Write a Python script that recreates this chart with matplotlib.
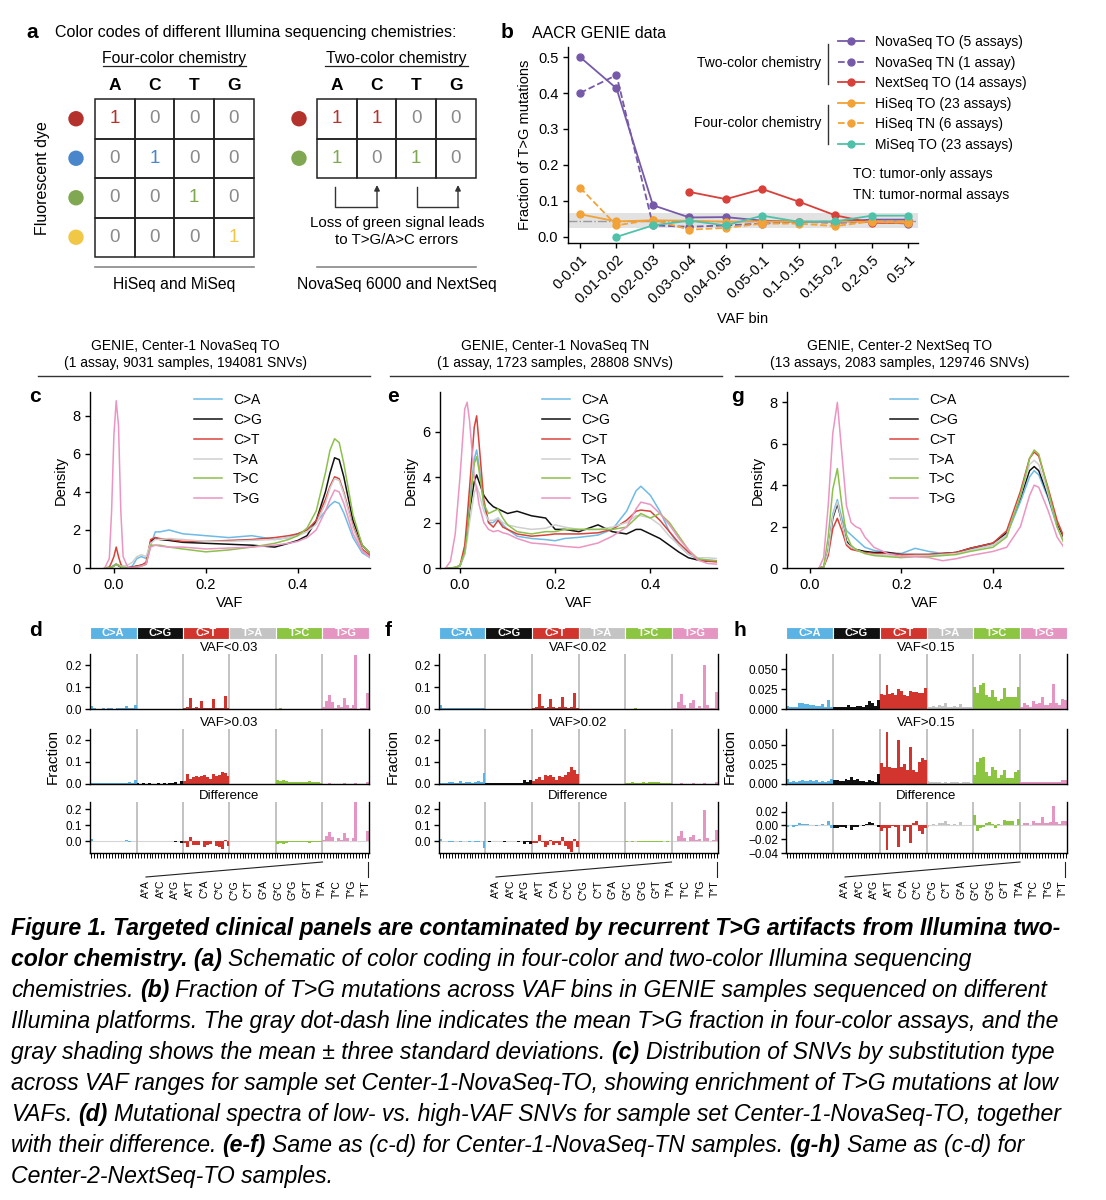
import numpy as np
import matplotlib
matplotlib.use('Agg')
import matplotlib.pyplot as plt
from matplotlib.patches import Circle, Rectangle
from matplotlib.ticker import FuncFormatter

# ---------------- data ----------------
bases = ['A', 'C', 'T', 'G']
four_color = [[1, 0, 0, 0], [0, 1, 0, 0], [0, 0, 1, 0], [0, 0, 0, 1]]
two_color = [[1, 1, 0, 0], [1, 0, 1, 0]]

vaf_bins = ['0-0.01', '0.01-0.02', '0.02-0.03', '0.03-0.04', '0.04-0.05',
            '0.05-0.1', '0.1-0.15', '0.15-0.2', '0.2-0.5', '0.5-1']
novaseq_to = [0.50, 0.413, 0.088, 0.054, 0.055, 0.045, 0.042, 0.042, 0.048, 0.048]
novaseq_tn = [0.40, 0.45, 0.032, 0.028, 0.032, 0.037, 0.042, 0.039, 0.042, 0.037]
nextseq_to = [np.nan, np.nan, np.nan, 0.125, 0.105, 0.133, 0.098, 0.060, 0.039, 0.039]
hiseq_to = [0.063, 0.043, 0.046, 0.045, 0.042, 0.043, 0.042, 0.042, 0.042, 0.039]
hiseq_tn = [0.137, 0.032, 0.048, 0.020, 0.025, 0.037, 0.037, 0.030, 0.043, 0.043]
miseq_to = [np.nan, 0.0, 0.032, 0.045, 0.032, 0.059, 0.042, 0.043, 0.059, 0.059]
tg_mean, tg_lo, tg_hi = 0.045, 0.025, 0.066

subs = ['C>A', 'C>G', 'C>T', 'T>A', 'T>C', 'T>G']

# panel c: Center-1 NovaSeq TO densities
c_vaf = [-0.02, -0.01, -0.005, 0.0, 0.005, 0.01, 0.015, 0.02, 0.03, 0.04, 0.05, 0.06, 0.07, 0.08, 0.09, 0.1,
         0.12, 0.15, 0.2, 0.25, 0.3, 0.35, 0.38, 0.4, 0.42, 0.44, 0.46, 0.47, 0.48, 0.49, 0.5, 0.52, 0.54, 0.56]
c_CA = [0, 0, 0.05, 0.15, 0.2, 0.15, 0.08, 0.05, 0.02, 0.1, 0.5, 0.6, 0.5, 1.2, 1.9, 1.9, 2.0,
        1.8, 1.7, 1.6, 1.7, 1.5, 1.6, 1.8, 2.0, 2.4, 3.0, 3.3, 3.5, 3.4, 2.9, 1.6, 0.8, 0.5]
c_CG = [0, 0, 0.05, 0.1, 0.2, 0.12, 0.05, 0.02, 0.0, 0.05, 0.1, 0.15, 0.2, 1.4, 1.6, 1.5, 1.45,
        1.35, 1.3, 1.25, 1.2, 1.1, 1.3, 1.45, 1.7, 2.5, 4.0, 5.0, 5.8, 5.7, 4.8, 2.5, 1.2, 0.7]
c_CT = [0, 0.05, 0.3, 0.6, 1.1, 0.6, 0.2, 0.05, 0.0, 0.05, 0.1, 0.15, 0.3, 1.5, 1.6, 1.55, 1.5,
        1.4, 1.4, 1.45, 1.5, 1.6, 1.7, 1.8, 2.0, 2.5, 3.6, 4.3, 4.8, 4.7, 4.0, 2.2, 1.0, 0.6]
c_TA = [0, 0, 0.05, 0.1, 0.2, 0.15, 0.1, 0.1, 0.15, 0.3, 0.6, 0.7, 0.6, 1.3, 1.5, 1.5, 1.55,
        1.5, 1.4, 1.4, 1.45, 1.5, 1.6, 1.7, 1.9, 2.3, 3.4, 4.2, 4.7, 4.6, 3.9, 2.1, 0.9, 0.5]
c_TC = [0, 0, 0.05, 0.1, 0.2, 0.15, 0.05, 0.02, 0.0, 0.02, 0.05, 0.1, 0.2, 1.2, 1.2, 1.2, 1.1,
        1.0, 0.85, 0.95, 1.1, 1.3, 1.5, 1.7, 2.1, 3.0, 5.0, 6.2, 6.8, 6.6, 5.5, 2.8, 1.2, 0.7]
c_TG = [0, 0.5, 3.0, 7.0, 8.8, 7.5, 3.0, 0.6, 0.05, 0.02, 0.05, 0.1, 0.2, 1.1, 1.2, 1.15, 1.1,
        1.1, 1.0, 1.05, 1.1, 1.2, 1.3, 1.4, 1.6, 2.0, 3.0, 3.6, 4.1, 4.0, 3.4, 1.8, 0.9, 0.5]

# panel e: Center-1 NovaSeq TN densities
e_vaf = [-0.03, -0.02, -0.01, 0.0, 0.01, 0.015, 0.02, 0.03, 0.035, 0.04, 0.05, 0.06, 0.07, 0.08, 0.09, 0.1,
         0.12, 0.15, 0.18, 0.2, 0.22, 0.25, 0.29, 0.32, 0.35, 0.37, 0.38, 0.4, 0.42, 0.44, 0.46, 0.48,
         0.5, 0.52, 0.55]
e_CA = [0, 0, 0.02, 0.1, 0.6, 1.5, 2.8, 4.8, 5.2, 4.5, 2.8, 2.0, 2.0, 2.2, 1.9, 1.7, 1.4, 1.3, 1.25,
        1.2, 1.3, 1.35, 1.45, 1.7, 2.5, 3.4, 3.6, 3.2, 2.5, 1.6, 1.0, 0.6, 0.4, 0.35, 0.3]
e_CG = [0, 0, 0.02, 0.1, 0.7, 1.5, 2.5, 3.8, 4.1, 3.8, 3.2, 2.9, 2.7, 2.6, 2.5, 2.4, 2.5, 2.3, 2.2,
        1.7, 1.7, 1.6, 1.9, 1.6, 1.5, 1.7, 1.7, 1.5, 1.3, 1.0, 0.7, 0.45, 0.35, 0.3, 0.3]
e_CT = [0, 0, 0.02, 0.1, 1.0, 2.2, 3.5, 6.2, 6.7, 5.5, 3.0, 2.0, 1.8, 2.1, 1.8, 1.7, 1.5, 1.4, 1.45,
        1.5, 1.5, 1.5, 1.55, 1.7, 2.1, 2.5, 2.55, 2.5, 2.1, 1.6, 1.1, 0.7, 0.35, 0.3, 0.25]
e_TA = [0, 0, 0.02, 0.1, 0.6, 1.2, 2.0, 3.3, 3.6, 3.3, 2.5, 2.1, 2.1, 2.2, 2.0, 1.9, 1.8, 1.7, 1.75,
        1.9, 1.8, 1.7, 1.7, 1.8, 2.0, 2.3, 2.3, 2.2, 1.9, 1.4, 1.0, 0.6, 0.45, 0.45, 0.4]
e_TC = [0, 0, 0.02, 0.1, 0.7, 1.5, 2.6, 4.6, 4.9, 4.3, 2.8, 2.4, 2.5, 2.6, 2.2, 1.9, 1.6, 1.5, 1.6,
        1.6, 1.7, 1.7, 1.7, 1.7, 1.8, 2.2, 2.4, 2.2, 2.4, 2.0, 1.4, 0.8, 0.4, 0.35, 0.3]
e_TG = [0, 0.3, 1.5, 4.0, 7.0, 7.3, 6.5, 4.0, 3.5, 2.8, 2.0, 1.7, 1.6, 1.65, 1.55, 1.5, 1.3, 1.1, 1.05,
        1.0, 0.95, 0.9, 1.1, 1.4, 1.8, 2.6, 2.9, 2.8, 2.4, 1.9, 1.3, 0.8, 0.35, 0.2, 0.15]

# panel g: Center-2 NextSeq TO densities
g_vaf = [0.02, 0.03, 0.04, 0.05, 0.06, 0.07, 0.08, 0.09, 0.1, 0.11, 0.12, 0.14, 0.17, 0.2,
         0.23, 0.26, 0.29, 0.32, 0.35, 0.4, 0.43, 0.46, 0.48, 0.49, 0.5, 0.52, 0.54, 0.555]
g_CA = [0, 0.05, 0.8, 2.6, 3.3, 2.4, 1.8, 1.6, 1.4, 1.2, 1.0, 0.85, 0.75, 0.7,
        0.95, 0.8, 0.7, 0.75, 0.9, 1.1, 1.6, 3.2, 4.4, 4.7, 4.5, 3.4, 2.0, 1.4]
g_CG = [0, 0.05, 0.8, 2.4, 3.1, 2.2, 1.3, 1.0, 0.9, 0.85, 0.8, 0.75, 0.75, 0.65,
        0.65, 0.65, 0.7, 0.75, 0.95, 1.2, 1.7, 3.4, 4.7, 4.9, 4.7, 3.5, 2.1, 1.4]
g_CT = [0, 0.05, 0.6, 1.9, 2.4, 1.8, 1.1, 0.9, 0.85, 0.8, 0.75, 0.7, 0.7, 0.65,
        0.65, 0.65, 0.7, 0.75, 0.95, 1.2, 1.8, 3.7, 5.3, 5.6, 5.4, 3.9, 2.3, 1.5]
g_TA = [0, 0.05, 0.8, 2.5, 3.2, 2.2, 1.2, 1.0, 0.9, 0.8, 0.7, 0.65, 0.6, 0.55,
        0.6, 0.6, 0.65, 0.7, 0.85, 1.1, 1.6, 3.5, 5.0, 5.2, 5.0, 3.6, 2.0, 1.3]
g_TC = [0, 0.05, 1.5, 3.8, 4.8, 3.0, 1.6, 1.1, 0.9, 0.8, 0.7, 0.6, 0.55, 0.5,
        0.55, 0.55, 0.6, 0.65, 0.8, 1.0, 1.5, 3.5, 5.3, 5.7, 5.5, 3.8, 2.0, 1.2]
g_TG = [0, 0.5, 3.0, 6.5, 8.0, 5.5, 3.0, 2.2, 2.0, 1.9, 1.5, 1.0, 0.7, 0.55,
        0.55, 0.5, 0.35, 0.45, 0.6, 0.8, 1.0, 2.0, 3.5, 4.0, 3.9, 2.8, 1.5, 1.0]

contexts = ['A*A', 'A*C', 'A*G', 'A*T', 'C*A', 'C*C', 'C*G', 'C*T',
            'G*A', 'G*C', 'G*G', 'G*T', 'T*A', 'T*C', 'T*G', 'T*T']

# 96-channel spectra, one row of 16 contexts per substitution type
d_low = [[0.015, 0.004, 0.002, 0.002, 0.003, 0.002, 0.005, 0.003, 0.002, 0.003, 0.004, 0.003, 0.012, 0.003, 0.003, 0.018],
         [0.001, 0.001, 0.002, 0.001, 0.001, 0.001, 0.001, 0.001, 0.001, 0.001, 0.001, 0.002, 0.001, 0.001, 0.001, 0.001],
         [0.003, 0.008, 0.050, 0.004, 0.010, 0.005, 0.038, 0.005, 0.006, 0.004, 0.047, 0.005, 0.004, 0.005, 0.058, 0.003],
         [0.001, 0.001, 0.001, 0.001, 0.001, 0.001, 0.001, 0.001, 0.001, 0.001, 0.001, 0.001, 0.001, 0.001, 0.001, 0.001],
         [0.001, 0.004, 0.001, 0.001, 0.001, 0.001, 0.001, 0.001, 0.001, 0.001, 0.001, 0.001, 0.001, 0.001, 0.001, 0.001],
         [0.010, 0.035, 0.062, 0.030, 0.005, 0.020, 0.010, 0.050, 0.020, 0.005, 0.020, 0.245, 0.002, 0.003, 0.004, 0.072]]
d_high = [[0.005, 0.006, 0.004, 0.005, 0.006, 0.005, 0.004, 0.006, 0.005, 0.005, 0.006, 0.004, 0.006, 0.007, 0.006, 0.020],
          [0.003, 0.002, 0.003, 0.002, 0.003, 0.002, 0.002, 0.003, 0.002, 0.003, 0.002, 0.003, 0.004, 0.008, 0.002, 0.012],
          [0.015, 0.045, 0.025, 0.030, 0.035, 0.030, 0.035, 0.040, 0.030, 0.025, 0.045, 0.035, 0.040, 0.055, 0.050, 0.035],
          [0.002, 0.002, 0.002, 0.002, 0.002, 0.002, 0.002, 0.002, 0.002, 0.002, 0.002, 0.002, 0.002, 0.002, 0.002, 0.002],
          [0.018, 0.015, 0.018, 0.012, 0.010, 0.008, 0.010, 0.008, 0.009, 0.008, 0.010, 0.012, 0.010, 0.008, 0.007, 0.006],
          [0.002, 0.002, 0.003, 0.002, 0.002, 0.002, 0.002, 0.003, 0.002, 0.002, 0.002, 0.003, 0.002, 0.002, 0.002, 0.008]]

f_low = [[0.018, 0.004, 0.003, 0.003, 0.004, 0.003, 0.003, 0.006, 0.004, 0.005, 0.003, 0.004, 0.004, 0.006, 0.006, 0.005],
         [0.001, 0.002, 0.001, 0.001, 0.002, 0.001, 0.001, 0.001, 0.001, 0.002, 0.001, 0.001, 0.002, 0.001, 0.001, 0.002],
         [0.003, 0.010, 0.068, 0.015, 0.004, 0.010, 0.045, 0.008, 0.005, 0.010, 0.055, 0.010, 0.004, 0.008, 0.075, 0.005],
         [0.001, 0.001, 0.001, 0.001, 0.001, 0.001, 0.001, 0.001, 0.001, 0.001, 0.001, 0.001, 0.001, 0.001, 0.001, 0.001],
         [0.001, 0.002, 0.001, 0.003, 0.001, 0.001, 0.002, 0.001, 0.001, 0.002, 0.001, 0.001, 0.001, 0.002, 0.001, 0.001],
         [0.003, 0.005, 0.032, 0.068, 0.020, 0.004, 0.027, 0.042, 0.006, 0.012, 0.005, 0.200, 0.020, 0.003, 0.006, 0.077]]
f_high = [[0.004, 0.004, 0.006, 0.010, 0.008, 0.005, 0.006, 0.012, 0.006, 0.007, 0.008, 0.006, 0.010, 0.012, 0.008, 0.048],
          [0.004, 0.006, 0.003, 0.004, 0.003, 0.004, 0.005, 0.003, 0.004, 0.003, 0.004, 0.005, 0.004, 0.018, 0.010, 0.020],
          [0.015, 0.025, 0.030, 0.020, 0.040, 0.035, 0.040, 0.030, 0.020, 0.035, 0.030, 0.040, 0.055, 0.078, 0.065, 0.045],
          [0.002, 0.002, 0.002, 0.002, 0.002, 0.002, 0.002, 0.002, 0.002, 0.002, 0.002, 0.002, 0.002, 0.002, 0.002, 0.002],
          [0.006, 0.005, 0.007, 0.006, 0.005, 0.006, 0.007, 0.006, 0.008, 0.007, 0.008, 0.007, 0.006, 0.005, 0.005, 0.004],
          [0.002, 0.002, 0.002, 0.003, 0.002, 0.002, 0.002, 0.003, 0.002, 0.002, 0.002, 0.003, 0.002, 0.002, 0.002, 0.008]]

h_low = [[0.004, 0.003, 0.002, 0.002, 0.008, 0.007, 0.006, 0.006, 0.005, 0.005, 0.004, 0.004, 0.006, 0.003, 0.011, 0.003],
         [0.002, 0.002, 0.002, 0.002, 0.003, 0.005, 0.003, 0.003, 0.004, 0.004, 0.003, 0.005, 0.010, 0.007, 0.004, 0.011],
         [0.019, 0.018, 0.030, 0.019, 0.020, 0.018, 0.025, 0.023, 0.017, 0.016, 0.022, 0.021, 0.021, 0.020, 0.020, 0.026],
         [0.002, 0.003, 0.004, 0.003, 0.005, 0.004, 0.008, 0.003, 0.002, 0.004, 0.003, 0.006, 0.002, 0.003, 0.002, 0.002],
         [0.027, 0.020, 0.030, 0.032, 0.018, 0.015, 0.024, 0.015, 0.010, 0.012, 0.026, 0.015, 0.015, 0.015, 0.015, 0.028],
         [0.002, 0.007, 0.005, 0.003, 0.010, 0.006, 0.007, 0.015, 0.005, 0.005, 0.007, 0.031, 0.007, 0.005, 0.012, 0.011]]
h_high = [[0.006, 0.003, 0.004, 0.003, 0.004, 0.005, 0.004, 0.004, 0.005, 0.004, 0.005, 0.003, 0.004, 0.003, 0.004, 0.006],
          [0.005, 0.005, 0.004, 0.004, 0.007, 0.005, 0.009, 0.005, 0.006, 0.004, 0.004, 0.003, 0.005, 0.004, 0.003, 0.013],
          [0.027, 0.022, 0.066, 0.022, 0.021, 0.020, 0.056, 0.022, 0.025, 0.018, 0.047, 0.018, 0.015, 0.028, 0.033, 0.030],
          [0.004, 0.003, 0.002, 0.002, 0.002, 0.001, 0.002, 0.001, 0.002, 0.002, 0.002, 0.001, 0.002, 0.002, 0.002, 0.001],
          [0.012, 0.028, 0.033, 0.034, 0.015, 0.010, 0.022, 0.018, 0.008, 0.012, 0.018, 0.008, 0.008, 0.008, 0.015, 0.018],
          [0.002, 0.003, 0.002, 0.002, 0.003, 0.002, 0.003, 0.003, 0.002, 0.002, 0.002, 0.003, 0.002, 0.003, 0.005, 0.005]]

# ---------------- style ----------------
plt.rcParams['font.family'] = ['Liberation Sans', 'DejaVu Sans']
plt.rcParams['axes.linewidth'] = 1.0
plt.rcParams['xtick.major.width'] = 1.0
plt.rcParams['ytick.major.width'] = 1.0

dye_colors = ['#b3322c', '#4a86cc', '#80a852', '#f0c846']
line_colors = ['#6dbbe6', '#111111', '#d8423b', '#cfcfcf', '#8cc04b', '#eb95c2']
strip_colors = ['#5bb3e4', '#111111', '#d2352d', '#c4c4c4', '#8cc541', '#e595c1']
purple, red, orange, teal = '#7659a8', '#d8403a', '#f2a236', '#4fc1a9'

W, H = 1106, 1200
fig = plt.figure(figsize=(11.06, 12), dpi=100)


def add_ax(l, t, r, b):
    return fig.add_axes([l / W, 1 - b / H, (r - l) / W, (b - t) / H])


def clean(ax):
    ax.spines['top'].set_visible(False)
    ax.spines['right'].set_visible(False)


# ---------------- panel b ----------------
axb = add_ax(568, 47, 918, 243)
xb = np.arange(len(vaf_bins))
axb.axhspan(tg_lo, tg_hi, color='#e2e2e2', lw=0, zorder=0)
axb.axhline(tg_mean, color='#9a9a9a', ls='-.', lw=1, zorder=1)
series = [('NovaSeq TO (5 assays)', novaseq_to, purple, '-'),
          ('NovaSeq TN (1 assay)', novaseq_tn, purple, '--'),
          ('NextSeq TO (14 assays)', nextseq_to, red, '-'),
          ('HiSeq TO (23 assays)', hiseq_to, orange, '-'),
          ('HiSeq TN (6 assays)', hiseq_tn, orange, '--'),
          ('MiSeq TO (23 assays)', miseq_to, teal, '-')]
for name, vals, col, ls in series:
    axb.plot(xb, vals, color=col, ls=ls, marker='o', ms=5, lw=1.3, label=name)
axb.set_xlim(-0.33, 9.27)
axb.set_ylim(-0.017, 0.528)
axb.set_yticks([0, 0.1, 0.2, 0.3, 0.4, 0.5])
axb.set_xticks(xb)
axb.set_xticklabels(vaf_bins, rotation=45, ha='right', rotation_mode='anchor', fontsize=10.5)
axb.tick_params(axis='y', labelsize=10.5)
axb.set_ylabel('Fraction of T>G mutations', fontsize=10.5)
axb.set_xlabel('VAF bin', fontsize=10.5)
clean(axb)
axb.legend(loc='upper left', bbox_to_anchor=(838 / W, 1 - 35 / H), bbox_transform=fig.transFigure,
           frameon=False, fontsize=10, handlelength=1.9, handletextpad=0.75, labelspacing=0.47,
           borderpad=0, borderaxespad=0)


# ---------------- density panels ----------------
def density(box, vaf, curves, xlim, ylim, yticks, leg_px):
    ax = add_ax(*box)
    for name, ys, col in zip(subs, curves, line_colors):
        ax.plot(vaf, ys, color=col, lw=1.1, label=name)
    ax.set_xlim(xlim)
    ax.set_ylim(ylim)
    ax.set_xticks([0, 0.2, 0.4])
    ax.set_xticklabels(['0.0', '0.2', '0.4'])
    ax.set_yticks(yticks)
    ax.tick_params(labelsize=10.5)
    ax.set_xlabel('VAF', fontsize=10.5, labelpad=3)
    ax.set_ylabel('Density', fontsize=10.5, labelpad=3)
    clean(ax)
    ax.legend(loc='upper left', bbox_to_anchor=(leg_px[0] / W, 1 - leg_px[1] / H),
              bbox_transform=fig.transFigure, frameon=False, fontsize=10, handlelength=2.0,
              handletextpad=0.8, labelspacing=0.42, borderpad=0, borderaxespad=0)
    return ax


density((90, 392, 370, 568), c_vaf, [c_CA, c_CG, c_CT, c_TA, c_TC, c_TG],
        (-0.052, 0.557), (0, 9.26), [0, 2, 4, 6, 8], (194, 393))
density((440, 392, 717, 568), e_vaf, [e_CA, e_CG, e_CT, e_TA, e_TC, e_TG],
        (-0.042, 0.54), (0, 7.75), [0, 2, 4, 6], (542, 393))
density((787, 392, 1063, 568), g_vaf, [g_CA, g_CG, g_CT, g_TA, g_TC, g_TG],
        (-0.05, 0.553), (0, 8.5), [0, 2, 4, 6, 8], (890, 393))


# ---------------- spectra panels ----------------
def minus_fmt(fmt):
    return FuncFormatter(lambda v, p: (fmt % v).replace('-', '\u2212'))


def spectrum(left, right, low, high, titles, lims, ticks, fmts, ylab_x):
    low = np.concatenate(low)
    high = np.concatenate(high)
    diff = low - high
    bar_cols = np.repeat(strip_colors, 16)
    # substitution strip
    st = add_ax(left, 627, right, 639)
    st.bar(np.arange(6), np.ones(6), width=1.0, color=strip_colors, edgecolor='white', lw=0.8)
    for i, s in enumerate(subs):
        st.text(i, 0.5, s, color='white', fontsize=8, fontweight='bold', ha='center', va='center')
    st.set_xlim(-0.5, 5.5)
    st.set_ylim(0, 1)
    st.axis('off')
    rows = [(654, 709), (729, 784), (802, 853)]
    axes = []
    for n, ((top, bot), vals, title, lim, tk, fm) in enumerate(zip(rows, [low, high, diff], titles, lims, ticks, fmts)):
        ax = add_ax(left, top, right, bot)
        ax.bar(np.arange(96), vals, width=1.0, color=bar_cols, lw=0, zorder=2)
        if n == 2:
            ax.axhline(0, color='#d5d5d5', lw=0.8, zorder=1)
        for k in range(1, 6):
            ax.axvline(16 * k - 0.5, color='#b8b8b8', lw=1.2, zorder=1)
        ax.set_xlim(-0.5, 95.5)
        ax.set_ylim(lim)
        ax.set_yticks(tk)
        ax.yaxis.set_major_formatter(minus_fmt(fm))
        ax.spines['top'].set_visible(False)
        ax.tick_params(axis='y', labelsize=8.5, length=3.5, pad=2)
        ax.set_title(title, fontsize=9.5, pad=2)
        ax.set_xticks([])
        axes.append(ax)
    axes[-1].set_xticks(np.arange(96))
    axes[-1].set_xticklabels([])
    axes[-1].tick_params(axis='x', length=3.5, width=0.7)
    axes[1].set_ylabel('Fraction', fontsize=11)
    axes[1].yaxis.set_label_coords((ylab_x - left) / (right - left), 0.5)
    return axes


spectrum(90, 369, d_low, d_high, ['VAF<0.03', 'VAF>0.03', 'Difference'],
         [(0, 0.25), (0, 0.25), (-0.075, 0.244)],
         [[0, 0.1, 0.2]] * 3, ['%.1f'] * 3, 60)
spectrum(439, 718, f_low, f_high, ['VAF<0.02', 'VAF>0.02', 'Difference'],
         [(0, 0.25), (0, 0.25), (-0.075, 0.244)],
         [[0, 0.1, 0.2]] * 3, ['%.1f'] * 3, 400)
spectrum(786, 1067, h_low, h_high, ['VAF<0.15', 'VAF>0.15', 'Difference'],
         [(0, 0.069), (0, 0.07), (-0.04, 0.034)],
         [[0, 0.025, 0.05], [0, 0.025, 0.05], [-0.04, -0.02, 0, 0.02]],
         ['%.3f', '%.3f', '%.2f'], 737)

# ---------------- overlay: schematic, headers, letters, caption ----------------
ov = fig.add_axes([0, 0, 1, 1])
ov.set_xlim(0, W)
ov.set_ylim(H, 0)
ov.axis('off')

for lab, x, y in [('a', 32, 32), ('b', 507, 32), ('c', 35, 397), ('e', 393, 397), ('g', 737, 397),
                  ('d', 35, 630), ('f', 388, 630), ('h', 740, 630)]:
    ov.text(x, y, lab, fontsize=15, fontweight='bold', ha='center', va='center')

# panel a
ov.text(55, 32, 'Color codes of different Illumina sequencing chemistries:', fontsize=11.5, va='center')
ov.text(43, 178, 'Fluorescent dye', fontsize=11.5, rotation=90, ha='center', va='center')


def color_table(x0, mat, title, under, dot_x):
    cw, ch, y0 = 39.7, 39.5, 99
    ncol = len(mat[0])
    row_cols = dye_colors if len(mat) == 4 else [dye_colors[0], dye_colors[2]]
    ov.text(x0 + 2 * cw, 59, title, fontsize=11.3, ha='center', va='center')
    ov.plot([x0 + 8, x0 + 4 * cw - 8], [66, 66], color='#222', lw=0.9)
    for j, bsym in enumerate(bases):
        ov.text(x0 + (j + 0.5) * cw, 85, bsym, fontsize=12.5, fontweight='bold', ha='center', va='center')
    for i, row in enumerate(mat):
        ov.add_patch(Circle((dot_x, y0 + (i + 0.5) * ch), 7.7, color=row_cols[i], lw=0))
        for j, v in enumerate(row):
            col = row_cols[i] if v else '#8a8a8a'
            ov.add_patch(Rectangle((x0 + j * cw, y0 + i * ch), cw, ch, fill=False, ec='#222', lw=1.1))
            ov.text(x0 + (j + 0.5) * cw, y0 + (i + 0.5) * ch, str(v), color=col, fontsize=13.5,
                    ha='center', va='center')
    ov.plot([x0, x0 + ncol * cw], [267, 267], color='#888', lw=1.2)
    ov.text(x0 + 2 * cw, 284, under, fontsize=11.3, ha='center', va='center')


color_table(95, four_color, 'Four-color chemistry', 'HiSeq and MiSeq', 76)
color_table(317, two_color, 'Two-color chemistry', 'NovaSeq 6000 and NextSeq', 299)
for xa, xb2 in [(335, 377), (417, 458)]:
    ov.plot([xa, xa, xb2], [187, 207, 207], color='#333', lw=1)
    ov.annotate('', xy=(xb2, 185), xytext=(xb2, 207),
                arrowprops=dict(arrowstyle='-|>', color='#333', lw=1, mutation_scale=8, shrinkA=0, shrinkB=0))
ov.text(397, 223, 'Loss of green signal leads', fontsize=10.8, ha='center', va='center')
ov.text(397, 240, 'to T>G/A>C errors', fontsize=10.8, ha='center', va='center')

# panel b annotations
ov.text(532, 33, 'AACR GENIE data', fontsize=11.5, va='center')
ov.text(821, 63, 'Two-color chemistry', fontsize=10, ha='right', va='center')
ov.text(821, 123, 'Four-color chemistry', fontsize=10, ha='right', va='center')
ov.plot([828, 828], [44, 84], color='#333', lw=1)
ov.plot([828, 828], [105, 144], color='#333', lw=1)
ov.text(853, 174, 'TO: tumor-only assays', fontsize=10, va='center')
ov.text(853, 195, 'TN: tumor-normal assays', fontsize=10, va='center')

# headers for density panels
headers = [(185, 38, 370, 'GENIE, Center-1 NovaSeq TO', '(1 assay, 9031 samples, 194081 SNVs)'),
           (555, 390, 722, 'GENIE, Center-1 NovaSeq TN', '(1 assay, 1723 samples, 28808 SNVs)'),
           (900, 735, 1068, 'GENIE, Center-2 NextSeq TO', '(13 assays, 2083 samples, 129746 SNVs)')]
for xc, xl, xr, l1, l2 in headers:
    ov.text(xc, 346, l1, fontsize=10, ha='center', va='center')
    ov.text(xc, 363, l2, fontsize=10, ha='center', va='center')
    ov.plot([xl, xr], [376, 376], color='#333', lw=1)

# zoom lines and trinucleotide context labels
for tg_start, right, lab_l in [(322.5, 368, 146), (671.5, 717, 496), (1020, 1065, 845)]:
    ov.plot([tg_start, lab_l], [862, 877], color='#222', lw=0.8)
    ov.plot([right, right], [862, 877], color='#222', lw=0.8)
    step = (right - 2 - lab_l) / 15
    for i, cx in enumerate(contexts):
        ov.text(lab_l + i * step, 880, cx, fontsize=7.5, rotation=90, ha='center', va='top')

# caption
BI = dict(fontweight='bold', fontstyle='italic')
IT = dict(fontstyle='italic')
caption = [
    [('Figure 1. Targeted clinical panels are contaminated by recurrent T>G artifacts from Illumina two-', BI)],
    [('color chemistry. (a)', BI), ('Schematic of color coding in four-color and two-color Illumina sequencing', IT)],
    [('chemistries.', IT), ('(b)', BI), ('Fraction of T>G mutations across VAF bins in GENIE samples sequenced on different', IT)],
    [('Illumina platforms. The gray dot-dash line indicates the mean T>G fraction in four-color assays, and the', IT)],
    [('gray shading shows the mean \u00b1 three standard deviations.', IT), ('(c)', BI),
     ('Distribution of SNVs by substitution type', IT)],
    [('across VAF ranges for sample set Center-1-NovaSeq-TO, showing enrichment of T>G mutations at low', IT)],
    [('VAFs.', IT), ('(d)', BI), ('Mutational spectra of low- vs. high-VAF SNVs for sample set Center-1-NovaSeq-TO, together', IT)],
    [('with their difference.', IT), ('(e-f)', BI), ('Same as (c-d) for Center-1-NovaSeq-TN samples.', IT),
     ('(g-h)', BI), ('Same as (c-d) for', IT)],
    [('Center-2-NextSeq-TO samples.', IT)],
]
cap_fs = 16.6
for k, line in enumerate(caption):
    y = 935 + 31 * k
    prev = None
    for seg, st in line:
        if prev is None:
            prev = ov.text(11, y, seg, fontsize=cap_fs, va='baseline', ha='left', **st)
        else:
            prev = ov.annotate(seg, xy=(1, 0), xycoords=prev, xytext=(4.5, 0), textcoords='offset points',
                               fontsize=cap_fs, va='bottom', ha='left', **st)

fig.savefig('out.png', dpi=100)
